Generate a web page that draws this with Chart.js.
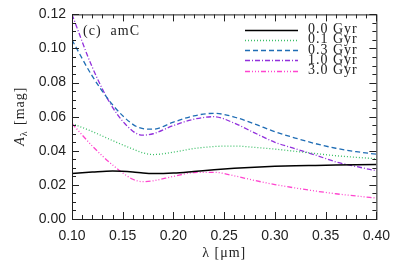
<!DOCTYPE html>
<html>
<head>
<meta charset="utf-8">
<script src="https://cdn.jsdelivr.net/npm/chart.js@4"></script>
<style>
  html, body { margin: 0; padding: 0; background: #fff; }
</style>
</head>
<body>
<canvas id="chart" width="399" height="265"></canvas>
<script>
// Data (panel c, amC)
const wavelengths = [0.10, 0.12, 0.14, 0.16, 0.17, 0.18, 0.20, 0.22, 0.24, 0.26, 0.28, 0.30, 0.32, 0.34, 0.36, 0.38, 0.40];
const age00 = [0.0267, 0.0275, 0.0281, 0.0276, 0.0270, 0.0267, 0.0270, 0.0279, 0.0289, 0.0297, 0.0304, 0.0309, 0.0312, 0.0314, 0.0316, 0.0318, 0.0320];
const age01 = [0.0560, 0.0513, 0.0460, 0.0410, 0.0388, 0.0378, 0.0392, 0.0413, 0.0425, 0.0428, 0.0420, 0.0410, 0.0397, 0.0384, 0.0371, 0.0362, 0.0353];
const age03 = [0.1050, 0.0838, 0.0670, 0.0555, 0.0530, 0.0527, 0.0568, 0.0605, 0.0620, 0.0598, 0.0557, 0.0512, 0.0475, 0.0442, 0.0415, 0.0395, 0.0380];
const age10 = [0.1200, 0.0890, 0.0655, 0.0515, 0.0492, 0.0500, 0.0548, 0.0585, 0.0600, 0.0562, 0.0505, 0.0450, 0.0412, 0.0375, 0.0335, 0.0308, 0.0283];
const age30 = [0.0560, 0.0428, 0.0317, 0.0233, 0.0219, 0.0224, 0.0250, 0.0272, 0.0274, 0.0253, 0.0226, 0.0202, 0.0182, 0.0164, 0.0148, 0.0135, 0.0123];
const ageLabels = ['0.0 Gyr', '0.1 Gyr', '0.3 Gyr', '1.0 Gyr', '3.0 Gyr'];
const xTicks = [0.10, 0.15, 0.20, 0.25, 0.30, 0.35, 0.40];
const yTicks = [0.00, 0.02, 0.04, 0.06, 0.08, 0.10, 0.12];

const series = [age00, age01, age03, age10, age30];
const colors = ['#000000', '#3cbf68', '#1f6db5', '#9230dc', '#ff45cf'];
const dashes = [[], [1, 2], [5, 3], [5, 2, 1, 2], [5, 2, 1, 2, 1, 2, 1, 2]];
const widths = [1.5, 1.3, 1.3, 1.3, 1.3];

const tickFont = { family: 'Liberation Sans', size: 14 };
const serif = '14px "Liberation Serif"';

const datasets = series.map((vals, i) => ({
  label: ageLabels[i],
  data: wavelengths.map((w, j) => ({ x: w, y: vals[j] })),
  borderColor: colors[i],
  borderDash: dashes[i],
  borderWidth: widths[i],
  pointRadius: 0,
  fill: false,
  cubicInterpolationMode: 'monotone',
}));

// Box around the plot and inward tick marks on all four sides
const framePlugin = {
  id: 'frame',
  afterDraw(chart) {
    const { ctx, chartArea: a, scales } = chart;
    ctx.save();
    ctx.strokeStyle = '#222';
    ctx.lineWidth = 1;
    ctx.strokeRect(a.left + 0.5, a.top + 0.5, a.right - a.left, a.bottom - a.top);
    ctx.beginPath();
    for (let i = 0; i <= 30; i++) {
      const px = Math.round(scales.x.getPixelForValue(0.1 + i * 0.01)) + 0.5;
      const len = i % 5 === 0 ? 7 : 4;
      ctx.moveTo(px, a.bottom); ctx.lineTo(px, a.bottom - len);
      ctx.moveTo(px, a.top); ctx.lineTo(px, a.top + len);
    }
    for (let i = 0; i <= 24; i++) {
      const py = Math.round(scales.y.getPixelForValue(i * 0.005)) + 0.5;
      const len = i % 4 === 0 ? 7 : 4;
      ctx.moveTo(a.left, py); ctx.lineTo(a.left + len, py);
      ctx.moveTo(a.right, py); ctx.lineTo(a.right - len, py);
    }
    ctx.stroke();
    ctx.restore();
  }
};

// Panel label, legend and axis titles
const textPlugin = {
  id: 'texts',
  afterDraw(chart) {
    const { ctx, chartArea: a } = chart;
    ctx.save();
    ctx.fillStyle = '#222';
    ctx.font = serif;
    ctx.letterSpacing = '1px';
    ctx.textBaseline = 'middle';
    ctx.fillText('(c)  amC', a.left + 11, 31);

    // legend
    ageLabels.forEach((lab, i) => {
      const y = 29.5 + i * 10.3;
      ctx.save();
      ctx.strokeStyle = colors[i];
      ctx.lineWidth = widths[i];
      ctx.setLineDash(dashes[i]);
      ctx.beginPath();
      ctx.moveTo(245, Math.round(y) + 0.5);
      ctx.lineTo(298, Math.round(y) + 0.5);
      ctx.stroke();
      ctx.restore();
      ctx.fillText(lab, 308, y);
    });

    // x title
    ctx.textAlign = 'center';
    ctx.fillText('\u03bb [\u03bcm]', (a.left + a.right) / 2, 253);

    // y title, rotated, with subscript lambda
    ctx.translate(20, (a.top + a.bottom) / 2);
    ctx.rotate(-Math.PI / 2);
    ctx.textAlign = 'left';
    const rest = ' [mag]';
    ctx.font = 'italic ' + serif;
    const wA = ctx.measureText('A').width;
    ctx.font = '10px "Liberation Serif"';
    const wL = ctx.measureText('\u03bb').width;
    ctx.font = serif;
    const wR = ctx.measureText(rest).width;
    let x0 = -(wA + wL + wR) / 2;
    ctx.font = 'italic ' + serif;
    ctx.fillText('A', x0, 0);
    ctx.font = '10px "Liberation Serif"';
    ctx.fillText('\u03bb', x0 + wA, 4);
    ctx.font = serif;
    ctx.fillText(rest, x0 + wA + wL + 1, 0);
    ctx.restore();
  }
};

const ctx = document.getElementById('chart').getContext('2d');
new Chart(ctx, {
  type: 'line',
  data: { datasets },
  options: {
    responsive: false,
    animation: false,
    layout: { padding: { top: 14, right: 20, left: 0, bottom: 0 } },
    plugins: { legend: { display: false }, tooltip: { enabled: false } },
    scales: {
      x: {
        type: 'linear',
        min: 0.1,
        max: 0.4,
        afterFit: (s) => { s.height = 46; },
        afterBuildTicks: (s) => { s.ticks = xTicks.map((v) => ({ value: v })); },
        ticks: { callback: (v) => v.toFixed(2), font: tickFont, color: '#222', padding: 9, maxRotation: 0 },
        grid: { display: false, drawTicks: false },
        border: { display: false },
      },
      y: {
        type: 'linear',
        min: 0,
        max: 0.12,
        afterFit: (s) => { s.width = 72; },
        afterBuildTicks: (s) => { s.ticks = yTicks.map((v) => ({ value: v })); },
        ticks: { callback: (v) => v.toFixed(2), font: tickFont, color: '#222', padding: 6 },
        grid: { display: false, drawTicks: false },
        border: { display: false },
      },
    },
  },
  plugins: [framePlugin, textPlugin],
});
</script>
</body>
</html>
